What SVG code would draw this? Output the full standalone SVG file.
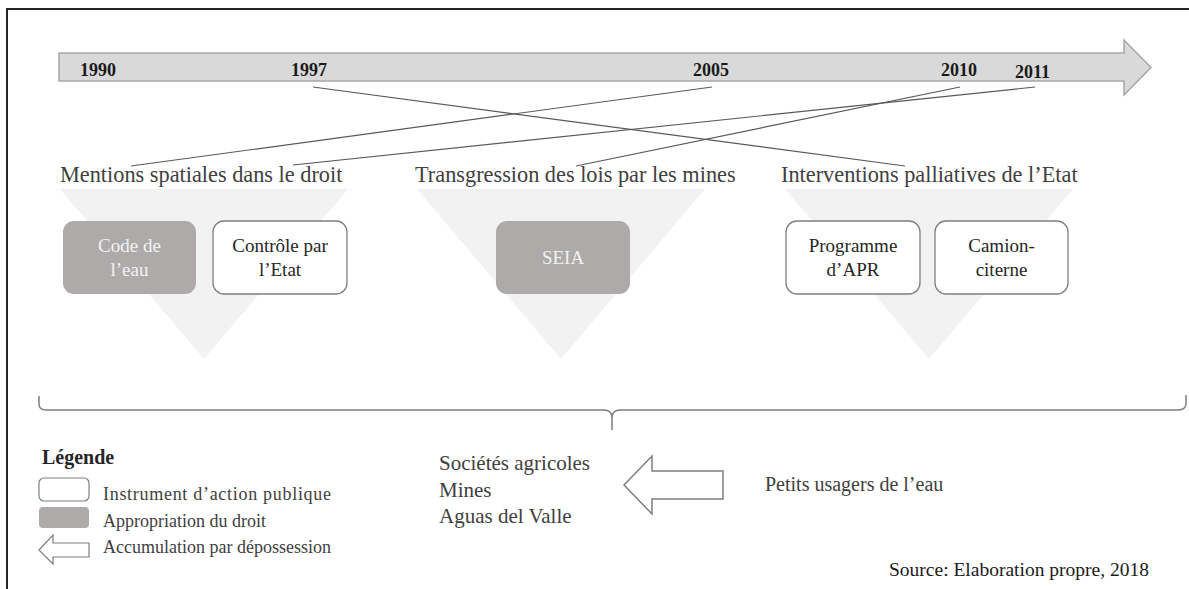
<svg xmlns="http://www.w3.org/2000/svg" width="1189" height="589" viewBox="0 0 1189 589">
<style>
text{font-family:"Liberation Serif","Times New Roman",serif}
.yr{font-size:18px;font-weight:bold;fill:#1a1a1a}
.hd{font-size:22.3px;fill:#404040}
.bx{font-size:19px;text-anchor:middle}
.wt{fill:#262626}
.gt{fill:#f2f2f2}
.tri{fill:#f2f2f2}
.gbox{fill:#aeaaaa}
.wbox{fill:#ffffff;stroke:#7f7f7f;stroke-width:1.3}
.con{stroke:#595959;stroke-width:1.2;fill:none}
.lg{font-size:18px;fill:#404040}
.mid{font-size:21px;fill:#404040}
</style>
<rect width="1189" height="589" fill="#ffffff"/>
<g id="frame" fill="none" stroke="#262626" stroke-width="2">
<path d="M7 589 L7 9 L1189 9"/>
</g>
<g id="timeline">
<path d="M59 53 L1124 53 L1124 40 L1151 67.5 L1124 95 L1124 81 L59 81 Z" fill="#d9d9d9" stroke="#a6a6a6" stroke-width="1.5"/>
<text class="yr" x="80" y="76">1990</text>
<text class="yr" x="291" y="76">1997</text>
<text class="yr" x="693" y="76">2005</text>
<text class="yr" x="941" y="76">2010</text>
<text class="yr" x="1015" y="78">2011</text>
</g>
<g id="triangles">
<polygon class="tri" points="60,189 348,189 204,359"/>
<polygon class="tri" points="417,189 705,189 561,359"/>
<polygon class="tri" points="785,189 1073,189 929,359"/>
</g>
<g id="heading-mentions"><text class="hd" x="60" y="182">Mentions spatiales dans le droit</text></g>
<g id="heading-transgression"><text class="hd" x="415" y="182">Transgression des lois par les mines</text></g>
<g id="heading-interventions"><text class="hd" x="781" y="182">Interventions palliatives de l’Etat</text></g>
<g id="connectors">
<line class="con" x1="313" y1="87" x2="905" y2="166"/>
<line class="con" x1="712" y1="87" x2="131" y2="166"/>
<line class="con" x1="1035" y1="87" x2="293" y2="165"/>
<line class="con" x1="960" y1="87" x2="576" y2="166"/>
</g>
<g id="node-code">
<rect class="gbox" x="63" y="221" width="133" height="73" rx="11"/>
<text class="bx gt" x="129.5" y="252">Code de</text>
<text class="bx gt" x="129.5" y="276">l’eau</text>
</g>
<g id="node-controle">
<rect class="wbox" x="213" y="221" width="134" height="73" rx="11"/>
<text class="bx wt" x="280" y="252">Contrôle par</text>
<text class="bx wt" x="280" y="276">l’Etat</text>
</g>
<g id="node-seia">
<rect class="gbox" x="496" y="221" width="134" height="73" rx="11"/>
<text class="bx gt" x="563" y="264">SEIA</text>
</g>
<g id="node-apr">
<rect class="wbox" x="786" y="221" width="134" height="73" rx="11"/>
<text class="bx wt" x="853" y="252">Programme</text>
<text class="bx wt" x="853" y="276">d’APR</text>
</g>
<g id="node-camion">
<rect class="wbox" x="935" y="221" width="133" height="73" rx="11"/>
<text class="bx wt" x="1001.5" y="252">Camion-</text>
<text class="bx wt" x="1001.5" y="276">citerne</text>
</g>
<g id="brace">
<path d="M39 396 L39 404 Q39 410 46 410 L604 410 Q612 410 612 418 L612 430 M612 418 Q612 410 620 410 L1178 410 Q1186 410 1186 403 L1186 395" fill="none" stroke="#7f7f7f" stroke-width="1.5"/>
</g>
<g id="legend">
<text x="42" y="464" font-size="20" font-weight="bold" fill="#262626">Légende</text>
<rect x="39" y="478" width="50" height="23" rx="5" fill="#ffffff" stroke="#7f7f7f" stroke-width="1.2"/>
<rect x="39" y="507" width="50" height="21" rx="4" fill="#aeaaaa"/>
<path d="M39 550 L53 535 L53 543 L89 543 L89 557 L53 557 L53 564 Z" fill="#ffffff" stroke="#7f7f7f" stroke-width="1.2"/>
<text class="lg" x="103" y="500" textLength="228" lengthAdjust="spacing">Instrument d’action publique</text>
<text class="lg" x="103" y="527">Appropriation du droit</text>
<text class="lg" x="103" y="553">Accumulation par dépossession</text>
</g>
<g id="actors">
<text class="mid" x="439" y="470">Sociétés agricoles</text>
<text class="mid" x="439" y="497">Mines</text>
<text class="mid" x="439" y="523">Aguas del Valle</text>
</g>
<g id="dispossession-arrow">
<path d="M624 485 L652 456 L652 471 L723 471 L723 499 L652 499 L652 514 Z" fill="#ffffff" stroke="#7f7f7f" stroke-width="1.5"/>
</g>
<g id="small-users">
<text x="765" y="491" font-size="20" fill="#404040">Petits usagers de l’eau</text>
</g>
<g id="source">
<text x="889" y="576" font-size="19.5" fill="#1a1a1a">Source: Elaboration propre, 2018</text>
</g>
</svg>
